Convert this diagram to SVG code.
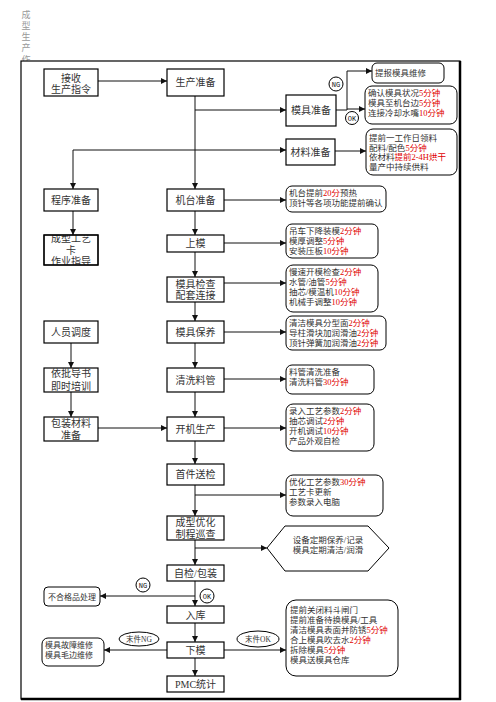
<svg xmlns="http://www.w3.org/2000/svg" width="496" height="702" viewBox="0 0 496 702">
<style>
text{font-family:"Liberation Serif","Noto Sans CJK SC",serif;fill:#333}
.b{fill:#fff;stroke:#000;stroke-width:1.2}
.c{fill:#fff;stroke:#000;stroke-width:1}
.t{font-size:10px;text-anchor:middle}
.s{font-size:8.5px}
.r{fill:#e00000}
.ln{fill:none;stroke:#111;stroke-width:1}
.ok{font-family:"Liberation Mono",monospace;font-size:7px;text-anchor:middle;fill:#111}
.ttl{font-size:9px;fill:#999;text-anchor:middle}
</style>
<defs>
<marker id="a" viewBox="0 0 10 10" refX="10" refY="5" markerWidth="6" markerHeight="6" orient="auto" markerUnits="userSpaceOnUse">
<path d="M0,0 L10,5 L0,10 z" fill="#111"/>
</marker>
<clipPath id="cp"><rect x="44" y="235" width="54" height="30"/></clipPath>
</defs>
<rect width="496" height="702" fill="#fff"/>
<g id="title">
<text class="ttl" x="26" y="18">成</text>
<text class="ttl" x="26" y="29">型</text>
<text class="ttl" x="26" y="40">生</text>
<text class="ttl" x="26" y="51">产</text>
<text class="ttl" x="26" y="63">作</text>
</g>
<g id="frame">
<rect x="21" y="61" width="439" height="638" fill="#fff" stroke="#000" stroke-width="1.2"/>
<line x1="460" y1="61" x2="460" y2="700" stroke="#000" stroke-width="2.5"/>
<line x1="21" y1="699" x2="461" y2="699" stroke="#000" stroke-width="2.5"/>
</g>
<g id="connectors">
<line class="ln" x1="98" y1="81" x2="167" y2="81" marker-end="url(#a)"/>
<line class="ln" x1="195" y1="96" x2="195" y2="189" marker-end="url(#a)"/>
<line class="ln" x1="195" y1="110" x2="286" y2="110" marker-end="url(#a)"/>
<line class="ln" x1="73" y1="150" x2="286" y2="150" marker-end="url(#a)"/>
<line class="ln" x1="73" y1="150" x2="73" y2="189" marker-end="url(#a)"/>
<line class="ln" x1="73" y1="211" x2="73" y2="235" marker-end="url(#a)"/>
<line class="ln" x1="195" y1="211" x2="195" y2="235" marker-end="url(#a)"/>
<line class="ln" x1="195" y1="252" x2="195" y2="277" marker-end="url(#a)"/>
<line class="ln" x1="195" y1="302" x2="195" y2="321" marker-end="url(#a)"/>
<line class="ln" x1="195" y1="343" x2="195" y2="368" marker-end="url(#a)"/>
<line class="ln" x1="195" y1="392" x2="195" y2="417" marker-end="url(#a)"/>
<line class="ln" x1="195" y1="441" x2="195" y2="464" marker-end="url(#a)"/>
<line class="ln" x1="195" y1="485" x2="195" y2="516" marker-end="url(#a)"/>
<line class="ln" x1="195" y1="540" x2="195" y2="565" marker-end="url(#a)"/>
<line class="ln" x1="195" y1="581" x2="195" y2="606" marker-end="url(#a)"/>
<line class="ln" x1="195" y1="623" x2="195" y2="642" marker-end="url(#a)"/>
<line class="ln" x1="195" y1="658" x2="195" y2="676" marker-end="url(#a)"/>
<line class="ln" x1="71" y1="343" x2="71" y2="368" marker-end="url(#a)"/>
<line class="ln" x1="71" y1="392" x2="71" y2="417" marker-end="url(#a)"/>
<line class="ln" x1="98" y1="428" x2="167" y2="428" marker-end="url(#a)"/>
<polyline class="ln" points="336,110 347,110 347,71 372,71" marker-end="url(#a)"/>
<line class="ln" x1="347" y1="109" x2="365" y2="109" marker-end="url(#a)"/>
<line class="ln" x1="335" y1="151" x2="366" y2="151" marker-end="url(#a)"/>
<line class="ln" x1="224" y1="200" x2="286" y2="200" marker-end="url(#a)"/>
<line class="ln" x1="224" y1="243" x2="286" y2="243" marker-end="url(#a)"/>
<line class="ln" x1="224" y1="283" x2="286" y2="283" marker-end="url(#a)"/>
<line class="ln" x1="224" y1="332" x2="286" y2="332" marker-end="url(#a)"/>
<line class="ln" x1="224" y1="379" x2="286" y2="379" marker-end="url(#a)"/>
<line class="ln" x1="224" y1="428" x2="286" y2="428" marker-end="url(#a)"/>
<line class="ln" x1="195" y1="495" x2="286" y2="495" marker-end="url(#a)"/>
<line class="ln" x1="195" y1="548" x2="267" y2="548" marker-end="url(#a)"/>
<line class="ln" x1="195" y1="596" x2="100" y2="596" marker-end="url(#a)"/>
<line class="ln" x1="167" y1="650" x2="104" y2="650" marker-end="url(#a)"/>
<line class="ln" x1="224" y1="650" x2="286" y2="650" marker-end="url(#a)"/>
</g>
<g id="labels">
<circle class="c" cx="336" cy="84" r="7"/><text class="ok" x="336" y="86.5">NG</text>
<circle class="c" cx="352" cy="118" r="6.5"/><text class="ok" x="352" y="120.5">OK</text>
<circle class="c" cx="143" cy="585" r="7"/><text class="ok" x="143" y="587.5">NG</text>
<circle class="c" cx="207" cy="596" r="7"/><text class="ok" x="207" y="598.5">OK</text>
<ellipse class="c" cx="139" cy="639" rx="20" ry="7"/><text class="t" style="font-size:7.5px" x="139" y="641.5">末件NG</text>
<ellipse class="c" cx="258" cy="639" rx="21" ry="8"/><text class="t" style="font-size:7.5px" x="258" y="641.5">末件OK</text>
</g>
<g id="n1"><rect class="b" x="44" y="69" width="54" height="27"/><text class="t" x="71" y="81.5">接收</text><text class="t" x="71" y="92.5">生产指令</text></g>
<g id="n2"><rect class="b" x="167" y="69" width="57" height="27"/><text class="t" x="195.5" y="85.5">生产准备</text></g>
<g id="n3"><rect class="b" x="286" y="95" width="50" height="31"/><text class="t" x="311" y="114">模具准备</text></g>
<g id="n4"><rect class="b" x="286" y="139" width="49" height="26"/><text class="t" x="310.5" y="155.5">材料准备</text></g>
<g id="n5"><rect class="b" x="44" y="189" width="54" height="22"/><text class="t" x="71" y="203.5">程序准备</text></g>
<g id="n6"><rect class="b" x="167" y="189" width="57" height="22"/><text class="t" x="195.5" y="203.5">机台准备</text></g>
<g id="n7"><rect class="b" x="44" y="235" width="54" height="30"/><g clip-path="url(#cp)"><text class="t" x="71" y="241.5">成型工艺</text><text class="t" x="71" y="253.5">卡</text><text class="t" x="71" y="265">作业指导</text></g><rect x="44" y="235" width="54" height="30" fill="none" stroke="#000" stroke-width="1.2"/></g>
<g id="n8"><rect class="b" x="167" y="235" width="57" height="17"/><text class="t" x="195.5" y="247">上模</text></g>
<g id="n9"><rect class="b" x="167" y="277" width="57" height="25"/><text class="t" x="195.5" y="287.5">模具检查</text><text class="t" x="195.5" y="299">配套连接</text></g>
<g id="n10"><rect class="b" x="44" y="321" width="54" height="22"/><text class="t" x="71" y="335.5">人员调度</text></g>
<g id="n11"><rect class="b" x="167" y="321" width="57" height="22"/><text class="t" x="195.5" y="335.5">模具保养</text></g>
<g id="n12"><rect class="b" x="44" y="368" width="54" height="24"/><text class="t" x="71" y="377">依批导书</text><text class="t" x="71" y="390">即时培训</text></g>
<g id="n13"><rect class="b" x="167" y="368" width="57" height="24"/><text class="t" x="195.5" y="383.5">清洗料管</text></g>
<g id="n14"><rect class="b" x="44" y="417" width="54" height="24"/><text class="t" x="71" y="427">包装材料</text><text class="t" x="71" y="438.5">准备</text></g>
<g id="n15"><rect class="b" x="167" y="417" width="57" height="24"/><text class="t" x="195.5" y="432.5">开机生产</text></g>
<g id="n16"><rect class="b" x="167" y="464" width="57" height="21"/><text class="t" x="195.5" y="478">首件送检</text></g>
<g id="n17"><rect class="b" x="167" y="516" width="57" height="24"/><text class="t" x="195.5" y="525.5">成型优化</text><text class="t" x="195.5" y="537.5">制程巡查</text></g>
<g id="n18"><rect class="b" x="167" y="565" width="57" height="16"/><text class="t" x="195.5" y="577">自检/包装</text></g>
<g id="n19"><rect class="b" x="167" y="606" width="57" height="17"/><text class="t" x="195.5" y="619">入库</text></g>
<g id="n20"><rect class="b" x="167" y="642" width="57" height="16"/><text class="t" x="195.5" y="653.5">下模</text></g>
<g id="n21"><rect class="b" x="167" y="676" width="57" height="16"/><text class="t" x="195.5" y="687.5">PMC统计</text></g>
<g id="c1"><rect class="c" x="372" y="63" width="72" height="20" rx="5"/><text class="s" x="375" y="76">提报模具维修</text></g>
<g id="c2"><rect class="c" x="365" y="86" width="92" height="38" rx="7"/>
<text class="s" x="368" y="96">确认模具状况<tspan class="r">5分钟</tspan></text>
<text class="s" x="368" y="106">模具至机台边<tspan class="r">5分钟</tspan></text>
<text class="s" x="368" y="115.5">连接冷却水嘴<tspan class="r">10分钟</tspan></text></g>
<g id="c3"><rect class="c" x="366" y="129" width="91" height="46" rx="7"/>
<text class="s" x="369" y="141">提前一工作日领料</text>
<text class="s" x="369" y="150.5">配料/配色<tspan class="r">5分钟</tspan></text>
<text class="s" x="369" y="160">依材料<tspan class="r">提前2-4H烘干</tspan></text>
<text class="s" x="369" y="169.5">量产中持续供料</text></g>
<g id="c4"><rect class="c" x="286" y="186" width="100" height="26" rx="6"/>
<text class="s" x="289" y="196">机台提前<tspan class="r">20分</tspan>预热</text>
<text class="s" x="289" y="206">顶针等各项功能提前确认</text></g>
<g id="c5"><rect class="c" x="286" y="224" width="92" height="34" rx="6"/>
<text class="s" x="289" y="234">吊车下降装模<tspan class="r">2分钟</tspan></text>
<text class="s" x="289" y="244">模厚调整<tspan class="r">5分钟</tspan></text>
<text class="s" x="289" y="253.5">安装压板<tspan class="r">10分钟</tspan></text></g>
<g id="c6"><rect class="c" x="286" y="265" width="92" height="47" rx="7"/>
<text class="s" x="289" y="275">慢速开模检查<tspan class="r">2分钟</tspan></text>
<text class="s" x="289" y="285">水管/油管<tspan class="r">5分钟</tspan></text>
<text class="s" x="289" y="295">抽芯/模温机<tspan class="r">10分钟</tspan></text>
<text class="s" x="289" y="305">机械手调整<tspan class="r">10分钟</tspan></text></g>
<g id="c7"><rect class="c" x="286" y="316" width="100" height="34" rx="6"/>
<text class="s" x="289" y="326">清洁模具分型面<tspan class="r">2分钟</tspan></text>
<text class="s" x="289" y="336">导柱滑块加润滑油<tspan class="r">2分钟</tspan></text>
<text class="s" x="289" y="345.5">顶针弹簧加润滑油<tspan class="r">2分钟</tspan></text></g>
<g id="c8"><rect class="c" x="286" y="365" width="88" height="29" rx="6"/>
<text class="s" x="289" y="374.5">料管清洗准备</text>
<text class="s" x="289" y="384.5">清洗料管<tspan class="r">30分钟</tspan></text></g>
<g id="c9"><rect class="c" x="286" y="404" width="88" height="47" rx="7"/>
<text class="s" x="289" y="414">录入工艺参数<tspan class="r">2分钟</tspan></text>
<text class="s" x="289" y="424">抽芯调试<tspan class="r">2分钟</tspan></text>
<text class="s" x="289" y="434">开机调试<tspan class="r">10分钟</tspan></text>
<text class="s" x="289" y="444">产品外观自检</text></g>
<g id="c10"><rect class="c" x="286" y="475" width="97" height="41" rx="7"/>
<text class="s" x="289" y="485">优化工艺参数<tspan class="r">30分钟</tspan></text>
<text class="s" x="289" y="495">工艺卡更新</text>
<text class="s" x="289" y="504.5">参数录入电脑</text></g>
<g id="c11"><polygon class="c" points="267,548 285,526 368,526 389,548 368,571 285,571"/>
<text class="s" x="328" y="543" text-anchor="middle">设备定期保养/记录</text>
<text class="s" x="328" y="553" text-anchor="middle">模具定期清洁/润滑</text></g>
<g id="c12"><rect class="c" x="44" y="587" width="56" height="19" rx="4"/><text class="t" style="font-size:8px" x="72" y="600">不合格品处理</text></g>
<g id="c13"><rect class="c" x="42" y="638" width="62" height="28" rx="6"/>
<text class="s" style="font-size:8px" x="45" y="648">模具故障维修</text>
<text class="s" style="font-size:8px" x="45" y="658">模具毛边维修</text></g>
<g id="c14"><rect class="c" x="286" y="600" width="112" height="76" rx="10"/>
<text class="s" x="290" y="613">提前关闭料斗闸门</text>
<text class="s" x="290" y="623">提前准备待换模具/工具</text>
<text class="s" x="290" y="633">清洁模具表面并防锈<tspan class="r">5分钟</tspan></text>
<text class="s" x="290" y="643">合上模具吹去水<tspan class="r">2分钟</tspan></text>
<text class="s" x="290" y="653">拆除模具<tspan class="r">5分钟</tspan></text>
<text class="s" x="290" y="663">模具送模具仓库</text></g>
</svg>
